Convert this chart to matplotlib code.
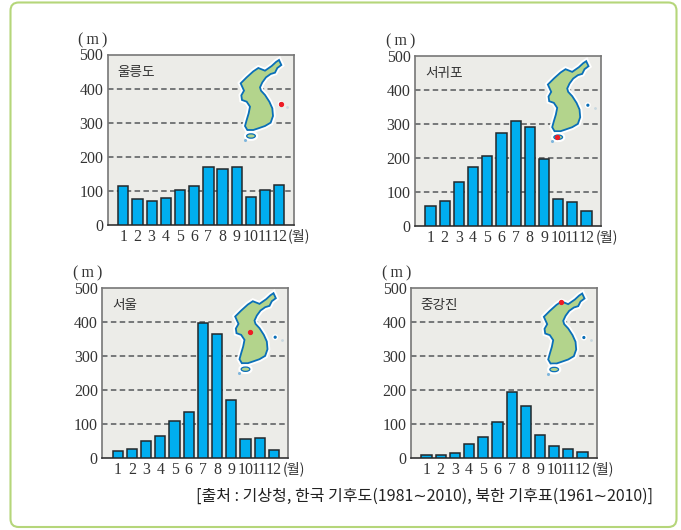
import matplotlib
matplotlib.use("Agg")
from matplotlib import pyplot as plt
from matplotlib.patches import FancyBboxPatch, Polygon, Ellipse
import matplotlib.patheffects as pe

SERIF = "Liberation Serif"
KR = "Noto Sans CJK KR"
W, H = 681, 530

months = ["1", "2", "3", "4", "5", "6", "7", "8", "9", "10", "11", "12"]
yticks = [0, 100, 200, 300, 400, 500]

names = ["울릉도", "서귀포", "서울", "중강진"]
ulleung = [114, 75, 69, 79, 104, 114, 169, 165, 169, 83, 104, 116]
seogwipo = [60, 74, 128, 173, 205, 274, 309, 292, 196, 79, 70, 43]
seoul = [21, 27, 49, 66, 108, 134, 396, 365, 171, 55, 58, 24]
junggangjin = [8, 9, 14, 40, 63, 107, 193, 154, 68, 35, 26, 17]
series = [ulleung, seogwipo, seoul, junggangjin]

# position des axes en pixels (gauche, droite, haut, bas)
boxes = [(107.5, 293.5, 54.5, 225), (414.7, 600.7, 55.7, 226),
         (102, 288, 287.7, 458), (410.7, 596.7, 288, 458)]
# point rouge de chaque carte, en pixels de la carte
dots = [(152, 163), (60, 256), (77, 145), (84, 56)]

# contour de la péninsule, en pixels de la carte (zoom x3)
korea = [(147, 30), (154, 45), (142, 54), (135, 68), (122, 72), (108, 82), (97, 97),
         (90, 112), (93, 122), (105, 135), (118, 155), (127, 175), (129, 198), (122, 218),
         (105, 228), (85, 235), (70, 240), (52, 240), (45, 228), (50, 210), (56, 190),
         (60, 170), (50, 155), (36, 150), (34, 136), (42, 122), (32, 100), (50, 82),
         (70, 64), (85, 54), (105, 62), (125, 48), (138, 36)]


def axes_px(fig, l, r, t, b):
    return fig.add_axes([l / W, 1 - b / H, (r - l) / W, (b - t) / H])


def carte(fig, l, t, dot):
    # la carte est calée sur le coin haut gauche du graphique
    ax = axes_px(fig, l + 122.5, l + 192.5, t - 4.5, t + 95.5)
    ax.set_xlim(0, 210)
    ax.set_ylim(300, 0)
    ax.axis("off")
    halo = [pe.withStroke(linewidth=4, foreground="white")]
    land = Polygon(korea, closed=True, fc="#b3d48c", ec="#0a6fb8", lw=1.3, zorder=3)
    land.set_path_effects(halo)
    ax.add_patch(land)
    jeju = Ellipse((63, 258), 26, 13, fc="#b3d48c", ec="#0a6fb8", lw=0.9, zorder=3)
    jeju.set_path_effects(halo)
    ax.add_patch(jeju)
    ax.plot([44], [270], "o", ms=1.2, color="#7fb6dd", zorder=3)
    ax.plot([152], [162], "o", ms=1.3, color="#0a6fb8", zorder=3,
            path_effects=[pe.withStroke(linewidth=3, foreground="white")])
    ax.plot([172], [170], "o", ms=1, color="#c8d8e0", zorder=3)
    ax.plot([dot[0]], [dot[1]], "o", ms=2.8, color="#ee1c25", zorder=4)


fig = plt.figure(figsize=(W / 100, H / 100), dpi=100, facecolor="white")

cadre = FancyBboxPatch((10.5 / W, 1 - 527 / H), 666 / W, 524.5 / H,
                       boxstyle="round,pad=0,rounding_size=0.012", mutation_aspect=W / H,
                       fc="white", ec="#b5d67a", lw=1.5, transform=fig.transFigure, zorder=-1)
fig.add_artist(cadre)

for (l, r, t, b), nom, vals, dot in zip(boxes, names, series, dots):
    ax = axes_px(fig, l, r, t, b)
    ax.set_facecolor("#ecece8")
    xs = list(range(1, 13))
    ax.bar(xs, vals, width=0.72, color="#00aeef", edgecolor="#23282b", linewidth=1.1, zorder=3)
    ax.set_xlim(-0.115, 13.0)
    ax.set_ylim(0, 500)
    for v in yticks[1:-1]:
        ax.axhline(v, color="#55585a", ls=(0, (3.6, 2.2)), lw=1.1, zorder=1)
    ax.set_yticks(yticks)
    ax.set_yticklabels([str(v) for v in yticks], family=SERIF, fontsize=11.4, color="#333333")
    ax.set_xticks(xs)
    ax.set_xticklabels(months, family=SERIF, fontsize=11.4, color="#333333")
    ax.tick_params(length=0, pad=3)
    ax.tick_params(axis="y", pad=3)
    for s in ax.spines.values():
        s.set_color("#777777")
        s.set_linewidth(1.2)
    ax.spines["bottom"].set_color("#333333")
    ax.text(12.62, -32, "(월)", family=[KR], fontsize=10.2, color="#333333",
            ha="left", va="center", clip_on=False)
    ax.text(-0.115 - 2.05, 542, "(\u2009m\u2009)", family=SERIF, fontsize=11.4, color="#333333",
            ha="left", va="center", clip_on=False)
    ax.text(0.6, 450, nom, family=KR, fontsize=9.8, color="#333333", ha="left", va="center")
    carte(fig, l, t, dot)

fig.text(653 / W, 1 - 496 / H, "[출처 : 기상청, 한국 기후도(1981∼2010), 북한 기후표(1961∼2010)]",
         family=[KR, "DejaVu Sans"], fontsize=11.5, color="#222222", ha="right", va="center")

fig.savefig("out.png", dpi=100)
